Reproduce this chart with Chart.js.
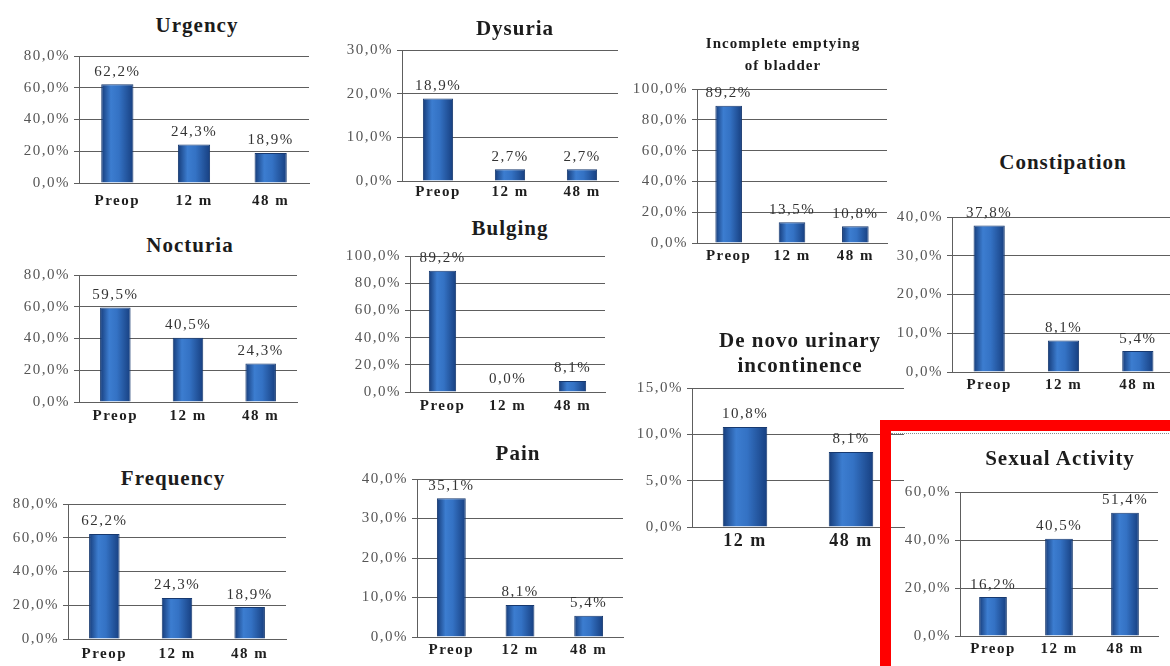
<!DOCTYPE html>
<html>
<head>
<meta charset="utf-8">
<script src="https://cdn.jsdelivr.net/npm/chart.js@4/dist/chart.umd.min.js"></script>
<style>
  html, body { margin: 0; padding: 0; background: #fff; }
  #page { position: relative; width: 1170px; height: 666px; overflow: hidden; background: #fff; }
  canvas { position: absolute; }
  .ttl { position: absolute; transform: translate(-50%, -50%); white-space: nowrap;
         font-family: "Liberation Serif", serif; font-weight: bold; color: #1c1c1c; letter-spacing: 1px; }
  #redbox { position: absolute; left: 880px; top: 420px; width: 400px; height: 400px;
            border: 11px solid #ff0000; box-sizing: border-box; z-index: 5; }
  #dots { position: absolute; left: 891px; top: 433px; width: 290px; border-top: 1px dotted #8a8a8a; z-index: 5; }
</style>
</head>
<body>
<div id="page">
  <div id="redbox"></div>
  <div id="dots"></div>
</div>
<script>
// categories
const timepoints = ['Preop', '12 m', '48 m'];
const followUps = ['12 m', '48 m'];

// % of patients per symptom
const urgency = [62.2, 24.3, 18.9];
const dysuria = [18.9, 2.7, 2.7];
const incompleteEmptying = [89.2, 13.5, 10.8];
const constipation = [37.8, 8.1, 5.4];
const nocturia = [59.5, 40.5, 24.3];
const bulging = [89.2, 0.0, 8.1];
const deNovoIncontinence = [10.8, 8.1];
const frequency = [62.2, 24.3, 18.9];
const pain = [35.1, 8.1, 5.4];
const sexualActivity = [16.2, 40.5, 51.4];

const BAR_PCT = 0.42;

// plot box = [left, top, right, bottom] of the axis area on the page
const panels = [
  { labels: timepoints, data: urgency, max: 80, step: 20, box: [79, 55, 309, 183], xPad: 9,
    titles: [['Urgency', 197, 25, 21]] },
  { labels: timepoints, data: dysuria, max: 30, step: 10, box: [402, 49, 618, 181], xPad: 2,
    titles: [['Dysuria', 515, 28, 21]] },
  { labels: timepoints, data: incompleteEmptying, max: 100, step: 20, box: [697, 88, 887, 243], xPad: 4,
    titles: [['Incomplete emptying', 783, 43, 15], ['of bladder', 783, 65, 15]] },
  { labels: timepoints, data: constipation, max: 40, step: 10, box: [952, 216, 1175, 372], xPad: 4,
    titles: [['Constipation', 1063, 162, 21]] },
  { labels: timepoints, data: nocturia, max: 80, step: 20, box: [79, 274, 297, 402], xPad: 5,
    titles: [['Nocturia', 190, 245, 21]] },
  { labels: timepoints, data: bulging, max: 100, step: 20, box: [410, 255, 605, 392], xPad: 5,
    titles: [['Bulging', 510, 228, 21]] },
  { labels: followUps, data: deNovoIncontinence, max: 15, step: 5, box: [692, 387, 904, 527], xPad: 4, xFont: 18,
    titles: [['De novo urinary', 800, 340, 21], ['incontinence', 800, 365, 21]] },
  { labels: timepoints, data: frequency, max: 80, step: 20, box: [68, 503, 286, 639], xPad: 6,
    titles: [['Frequency', 173, 478, 21]] },
  { labels: timepoints, data: pain, max: 40, step: 10, box: [417, 478, 623, 637], xPad: 4,
    titles: [['Pain', 518, 453, 21]] },
  { labels: timepoints, data: sexualActivity, max: 60, step: 20, box: [960, 491, 1158, 636], xPad: 4,
    titles: [['Sexual Activity', 1060, 458, 21]] }
];

function pct(v) {
  return Number(v).toFixed(1).replace('.', ',') + '%';
}

// cylinder-ish shading across each bar
function barFill(context) {
  const chart = context.chart;
  const xs = chart.scales.x;
  if (!chart.chartArea || !xs || context.dataIndex === undefined) return '#2d64b3';
  const cx = xs.getPixelForValue(context.dataIndex);
  const half = xs.width / xs.ticks.length * BAR_PCT / 2;
  const g = chart.ctx.createLinearGradient(cx - half, 0, cx + half, 0);
  g.addColorStop(0, '#163c7a');
  g.addColorStop(0.3, '#3c7dd0');
  g.addColorStop(0.55, '#3472c4');
  g.addColorStop(1, '#173f80');
  return g;
}

const spacing = {
  id: 'spacing',
  beforeDraw(chart) { chart.ctx.letterSpacing = '1.5px'; }
};

const valueLabels = {
  id: 'valueLabels',
  afterDatasetsDraw(chart) {
    const ctx = chart.ctx;
    const meta = chart.getDatasetMeta(0);
    const vals = chart.data.datasets[0].data;
    ctx.save();
    ctx.font = '15px "Liberation Serif"';
    ctx.fillStyle = '#333';
    ctx.textAlign = 'center';
    ctx.textBaseline = 'bottom';
    meta.data.forEach((bar, i) => {
      ctx.fillText(pct(vals[i]), bar.x, bar.y - 5);
    });
    ctx.restore();
  }
};

const page = document.getElementById('page');
const PAD_L = 75, PAD_T = 12, PAD_R = 6, PAD_B = 30;

panels.forEach(p => {
  const [l, t, r, b] = p.box;
  const cv = document.createElement('canvas');
  const w = r - l + PAD_L + PAD_R;
  const h = b - t + PAD_T + PAD_B;
  cv.width = w; cv.height = h;
  cv.style.left = (l - PAD_L) + 'px';
  cv.style.top = (t - PAD_T) + 'px';
  cv.style.width = w + 'px';
  cv.style.height = h + 'px';
  page.appendChild(cv);

  p.titles.forEach(([text, x, y, size]) => {
    const d = document.createElement('div');
    d.className = 'ttl';
    d.textContent = text;
    d.style.left = x + 'px';
    d.style.top = y + 'px';
    d.style.fontSize = size + 'px';
    page.appendChild(d);
  });

  new Chart(cv, {
    type: 'bar',
    data: {
      labels: p.labels,
      datasets: [{
        data: p.data,
        backgroundColor: barFill,
        borderColor: '#17396f',
        borderWidth: 1,
        barPercentage: BAR_PCT,
        categoryPercentage: 1
      }]
    },
    options: {
      responsive: false,
      animation: false,
      devicePixelRatio: 1,
      layout: { padding: { top: PAD_T, right: PAD_R, left: 0, bottom: 0 } },
      plugins: { legend: { display: false }, tooltip: { enabled: false } },
      scales: {
        x: {
          grid: { display: false, drawTicks: false },
          border: { display: true, color: '#5e5e5e', width: 1 },
          ticks: {
            color: '#1e1e1e',
            padding: p.xPad,
            maxRotation: 0,
            autoSkip: false,
            font: { family: 'Liberation Serif', size: p.xFont || 15, weight: 'bold' }
          },
          afterFit(s) { s.height = PAD_B; }
        },
        y: {
          min: 0,
          max: p.max,
          grid: { color: '#5e5e5e', lineWidth: 1, tickLength: 5 },
          border: { display: true, color: '#5e5e5e', width: 1 },
          ticks: {
            stepSize: p.step,
            color: '#555',
            padding: 4,
            font: { family: 'Liberation Serif', size: 15 },
            callback: v => pct(v)
          },
          afterFit(s) { s.width = PAD_L; }
        }
      }
    },
    plugins: [spacing, valueLabels]
  });
});
</script>
</body>
</html>
